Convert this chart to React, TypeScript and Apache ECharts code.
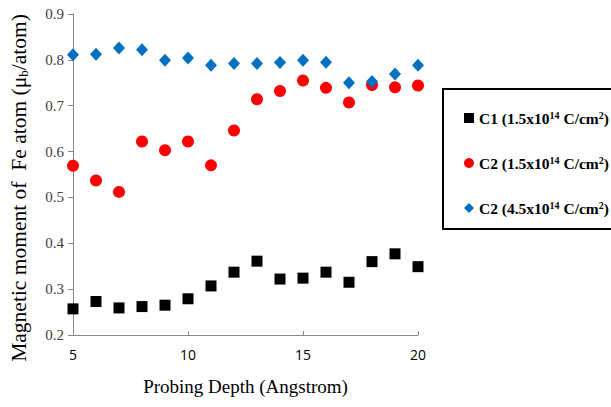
import React, { useEffect, useRef } from "react";
import * as echarts from "echarts";

const depths = [5, 6, 7, 8, 9, 10, 11, 12, 13, 14, 15, 16, 17, 18, 19, 20];
const c1Low = [0.257, 0.273, 0.259, 0.262, 0.265, 0.279, 0.307, 0.337, 0.361, 0.322, 0.324, 0.337, 0.315, 0.36, 0.377, 0.349];
const c2Low = [0.569, 0.537, 0.512, 0.622, 0.603, 0.622, 0.57, 0.646, 0.714, 0.732, 0.755, 0.739, 0.707, 0.745, 0.74, 0.744];
const c2High = [0.811, 0.812, 0.826, 0.822, 0.799, 0.804, 0.788, 0.792, 0.792, 0.794, 0.799, 0.795, 0.75, 0.753, 0.769, 0.788];
const seriesNames = ["C1 (1.5x10^14 C/cm^2)", "C2 (1.5x10^14 C/cm^2)", "C2 (4.5x10^14 C/cm^2)"];
const legendRich: Record<string, string> = {
  "C1 (1.5x10^14 C/cm^2)": "C1 (1.5x10{sup|14} C/cm{sup|2})",
  "C2 (1.5x10^14 C/cm^2)": "C2 (1.5x10{sup|14} C/cm{sup|2})",
  "C2 (4.5x10^14 C/cm^2)": "C2 (4.5x10{sup|14} C/cm{sup|2})",
};
const yTitle = "Magnetic moment of  Fe atom (μ{sub|b}/atom)";
const xTitle = "Probing Depth (Angstrom)";

const serif = "'Liberation Serif', 'DejaVu Serif', serif";

export default function App() {
  const ref = useRef<HTMLDivElement>(null);
  useEffect(() => {
    const chart = echarts.init(ref.current!, null, { renderer: "svg" });
    const pairs = (ys: number[]) => depths.map((d, i) => [d, ys[i]]);
    chart.setOption({
      animation: false,
      backgroundColor: "#fff",
      grid: { left: 73, right: 193, top: 14, bottom: 72 },
      xAxis: {
        type: "value",
        min: 5,
        max: 20,
        interval: 5,
        name: xTitle,
        nameLocation: "middle",
        nameGap: 42,
        nameTextStyle: { fontFamily: serif, fontSize: 19, color: "#000" },
        axisLine: { lineStyle: { color: "#868686", width: 1 } },
        axisTick: { inside: true, length: 4, lineStyle: { color: "#868686" } },
        axisLabel: { fontFamily: "'Open Sans', 'DejaVu Sans', sans-serif", fontSize: 14, color: "#000", margin: 12 },
        splitLine: { show: false },
      },
      yAxis: {
        type: "value",
        min: 0.2,
        max: 0.9,
        interval: 0.1,
        axisLine: { show: true, lineStyle: { color: "#868686", width: 1 } },
        axisTick: { show: true, length: 5, lineStyle: { color: "#868686" } },
        axisLabel: {
          fontFamily: serif,
          fontSize: 15,
          color: "#404040",
          margin: 9,
          formatter: (v: number) => v.toFixed(1),
        },
        splitLine: { show: false },
      },
      legend: {
        orient: "vertical",
        left: 459,
        top: 105,
        itemWidth: 10,
        itemHeight: 10,
        itemGap: 29,
        data: seriesNames,
        formatter: (name: string) => legendRich[name],
        textStyle: {
          fontFamily: serif,
          fontSize: 15.5,
          fontWeight: "bold",
          color: "#000",
          rich: {
            sup: { fontFamily: serif, fontSize: 10, fontWeight: "bold", verticalAlign: "top", padding: [0, 0, 6, 0] },
          },
        },
      },
      graphic: [
        {
          type: "rect",
          shape: { x: 443, y: 89, width: 200, height: 140 },
          style: { fill: "none", stroke: "#000", lineWidth: 2 },
          z: 100,
        },
        {
          type: "text",
          x: 19,
          y: 188,
          rotation: Math.PI / 2,
          style: {
            text: yTitle,
            fontFamily: serif,
            fontSize: 21.5,
            fill: "#000",
            align: "center",
            verticalAlign: "middle",
            rich: {
              sub: { fontFamily: serif, fontSize: 13, fill: "#000", padding: [9, 0, 0, 0] },
            },
          },
        },
      ],
      series: [
        {
          name: seriesNames[0],
          type: "scatter",
          symbol: "rect",
          symbolSize: 11,
          itemStyle: { color: "#000", opacity: 1 },
          data: pairs(c1Low),
        },
        {
          name: seriesNames[1],
          type: "scatter",
          symbol: "circle",
          symbolSize: 12,
          itemStyle: { color: "#ff0000", opacity: 1 },
          data: pairs(c2Low),
        },
        {
          name: seriesNames[2],
          type: "scatter",
          symbol: "diamond",
          symbolSize: [12, 13],
          itemStyle: { color: "#0070c0", opacity: 1 },
          data: pairs(c2High),
        },
      ],
    });
    return () => chart.dispose();
  }, []);
  return <div ref={ref} style={{ width: 611, height: 407, position: "absolute", left: 0, top: 0 }} />;
}
